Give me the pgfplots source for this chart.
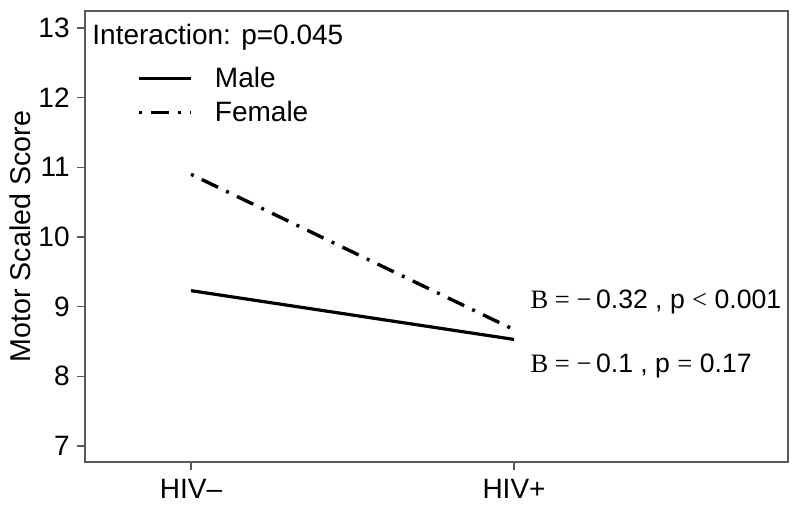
\documentclass[border=0pt]{standalone}
\usepackage{fontspec}
\setmainfont{Liberation Sans}
\newfontfamily\symfont{Liberation Serif}
\usepackage{pgfplots}
\pgfplotsset{compat=1.18}

\begin{document}
\begin{tikzpicture}[font=\fontsize{14}{16}\selectfont]
\begin{axis}[
    name=ax,
    scale only axis,
    width=351.6pt, height=225.5pt,
    xmin=-0.329, xmax=1.848,
    ymin=6.77, ymax=13.244,
    xtick={0,1}, xticklabels={HIV–,HIV+},
    ytick={7,8,...,13},
    xtick pos=lower, ytick pos=left,
    tick align=outside,
    major tick length=4pt,
    axis line style={draw=black!65, line width=1pt},
    tick style={draw=black!65, line width=0.8pt},
    xticklabel style={yshift=-1pt},
    /pgf/number format/assume math mode=true,
    ylabel={Motor Scaled Score},
    ylabel style={at={(axis description cs:-0.092,0.5)}, anchor=center, font=\fontsize{14.3}{16}\selectfont},
    legend style={draw=none, fill=none, at={(axis description cs:0.066,0.895)},
        anchor=north west, row sep=1.5pt, cells={anchor=west},
        /tikz/every odd column/.append style={column sep=9pt}},
    legend image code/.code={\draw[#1] (0pt,0pt) -- (26pt,0pt);},
    clip=false,
]
\addplot[black, line width=1.6pt] coordinates {(0,9.23) (1,8.53)};
\addlegendentry{Male}
\addplot[black, line width=1.7pt, dash pattern=on 1.5pt off 4.5pt on 9pt off 4.5pt] coordinates {(0,10.90) (1,8.67)};
\addlegendentry{Female}

\node[anchor=west, inner sep=0pt] at (axis description cs:0.0104,0.942) {Interaction: p=0.045};
\node[anchor=base west, inner sep=0pt, font=\fontsize{13.3}{16}\selectfont] at (axis cs:1.05,8.97) {{\symfont B = −}\,0.32 , p {\symfont <} 0.001};
\node[anchor=base west, inner sep=0pt, font=\fontsize{13.3}{16}\selectfont] at (axis cs:1.05,8.05) {{\symfont B = −}\,0.1 , p {\symfont =} 0.17};
\end{axis}
\pgfresetboundingbox
\path ([shift={(-42.35pt,-25pt)}]ax.south west) rectangle ([shift={(6pt,5.5pt)}]ax.north east);
\end{tikzpicture}
\end{document}
